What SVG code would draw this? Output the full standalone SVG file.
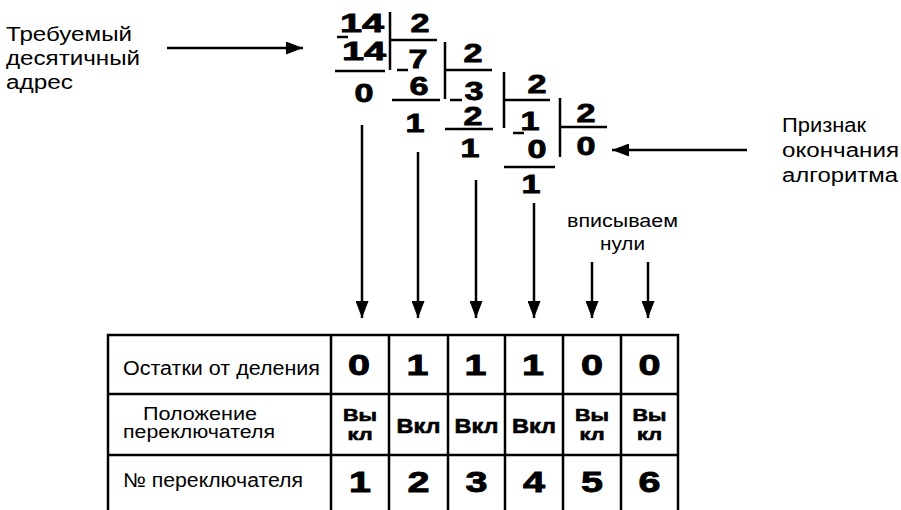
<svg xmlns="http://www.w3.org/2000/svg" width="901" height="510" viewBox="0 0 901 510">
<defs>
<style>
.lbl{font-family:"Liberation Sans",Arial,sans-serif;font-size:20px;fill:#000}
.sm{font-family:"Liberation Sans",Arial,sans-serif;font-size:18px;fill:#000}
.dv{font-family:"Liberation Sans",Arial,sans-serif;font-size:25px;font-weight:bold;fill:#000;stroke:#000;stroke-width:0.8;text-anchor:middle}
.td{font-family:"Liberation Sans",Arial,sans-serif;font-size:30px;font-weight:bold;fill:#000;stroke:#000;stroke-width:0.9;text-anchor:middle}
.sw{font-family:"Liberation Sans",Arial,sans-serif;font-size:21px;font-weight:bold;fill:#000;stroke:#000;stroke-width:0.6;text-anchor:middle}
.sw2{font-family:"Liberation Sans",Arial,sans-serif;font-size:17px;font-weight:bold;fill:#000;stroke:#000;stroke-width:0.6;text-anchor:middle}
.ln{stroke:#000;stroke-width:2.5;fill:none}
.ar{stroke:#000;stroke-width:2.5;fill:none;marker-end:url(#ah)}
</style>
<marker id="ah" markerWidth="17" markerHeight="13" refX="17" refY="6.5" orient="auto" markerUnits="userSpaceOnUse">
<path d="M0,0 L17,6.5 L0,13 Z" fill="#000"/>
</marker>
</defs>
<rect width="901" height="510" fill="#fff"/>

<g id="label-address">
<text class="lbl" x="6" y="41" textLength="126" lengthAdjust="spacingAndGlyphs">Требуемый</text>
<text class="lbl" x="6" y="65" textLength="134" lengthAdjust="spacingAndGlyphs">десятичный</text>
<text class="lbl" x="6" y="89" textLength="67" lengthAdjust="spacingAndGlyphs">адрес</text>
</g>

<g id="label-end">
<text class="lbl" x="782" y="132" textLength="84" lengthAdjust="spacingAndGlyphs">Признак</text>
<text class="lbl" x="782" y="157" textLength="117" lengthAdjust="spacingAndGlyphs">окончания</text>
<text class="lbl" x="782" y="182" textLength="116" lengthAdjust="spacingAndGlyphs">алгоритма</text>
</g>

<g id="label-zeros">
<text class="sm" x="567" y="227" textLength="111" lengthAdjust="spacingAndGlyphs">вписываем</text>
<text class="sm" x="600" y="250" textLength="45" lengthAdjust="spacingAndGlyphs">нули</text>
</g>

<g id="division">
<text class="dv" x="362" y="32" textLength="44" lengthAdjust="spacingAndGlyphs">14</text>
<text class="dv" x="420" y="32" textLength="19" lengthAdjust="spacingAndGlyphs">2</text>
<text class="dv" x="364" y="60" textLength="44" lengthAdjust="spacingAndGlyphs">14</text>
<text class="dv" x="364" y="102" textLength="19" lengthAdjust="spacingAndGlyphs">0</text>
<text class="dv" x="418" y="68" textLength="19" lengthAdjust="spacingAndGlyphs">7</text>
<text class="dv" x="473" y="62" textLength="19" lengthAdjust="spacingAndGlyphs">2</text>
<text class="dv" x="419" y="95" textLength="19" lengthAdjust="spacingAndGlyphs">6</text>
<text class="dv" x="415" y="132" textLength="19" lengthAdjust="spacingAndGlyphs">1</text>
<text class="dv" x="474" y="100" textLength="19" lengthAdjust="spacingAndGlyphs">3</text>
<text class="dv" x="537" y="93" textLength="19" lengthAdjust="spacingAndGlyphs">2</text>
<text class="dv" x="473" y="125" textLength="19" lengthAdjust="spacingAndGlyphs">2</text>
<text class="dv" x="470" y="157" textLength="19" lengthAdjust="spacingAndGlyphs">1</text>
<text class="dv" x="530" y="130" textLength="19" lengthAdjust="spacingAndGlyphs">1</text>
<text class="dv" x="537" y="158" textLength="19" lengthAdjust="spacingAndGlyphs">0</text>
<text class="dv" x="531" y="193" textLength="19" lengthAdjust="spacingAndGlyphs">1</text>
<text class="dv" x="586" y="122" textLength="19" lengthAdjust="spacingAndGlyphs">2</text>
<text class="dv" x="586" y="155" textLength="19" lengthAdjust="spacingAndGlyphs">0</text>
<path class="ln" d="M337,37 H348 M397,70 H408 M450,100 H462 M513,133 H524"/>
<path class="ln" d="M390,12 V70 M445,42 V99 M504,72 V128 M560,98 V157"/>
<path class="ln" d="M390,40 H437 M335,71 H385 M445,70 H492 M392,100 H440 M504,100 H550 M445,129 H493 M560,127 H607 M504,167 H555"/>
</g>

<g id="table">
<path class="ln" d="M108,511 V335 H678 V511 M331,335 V511 M389,335 V511 M448,335 V511 M505,335 V511 M563,335 V511 M621,335 V511 M108,394 H678 M108,455 H678"/>
<text class="lbl" x="123" y="375" textLength="197" lengthAdjust="spacingAndGlyphs">Остатки от деления</text>
<text class="sm" x="143" y="420" textLength="114" lengthAdjust="spacingAndGlyphs">Положение</text>
<text class="sm" x="123" y="438" textLength="152" lengthAdjust="spacingAndGlyphs">переключателя</text>
<text class="lbl" x="123" y="487" textLength="180" lengthAdjust="spacingAndGlyphs">№ переключателя</text>
<text class="td" x="359" y="375" textLength="22" lengthAdjust="spacingAndGlyphs">0</text>
<text class="td" x="417.5" y="375" textLength="22" lengthAdjust="spacingAndGlyphs">1</text>
<text class="td" x="475.5" y="375" textLength="22" lengthAdjust="spacingAndGlyphs">1</text>
<text class="td" x="533" y="375" textLength="22" lengthAdjust="spacingAndGlyphs">1</text>
<text class="td" x="592" y="375" textLength="22" lengthAdjust="spacingAndGlyphs">0</text>
<text class="td" x="649.5" y="375" textLength="22" lengthAdjust="spacingAndGlyphs">0</text>
<text class="sw2" x="360" y="420.5" textLength="34" lengthAdjust="spacingAndGlyphs">Вы</text>
<text class="sw2" x="360" y="440" textLength="25" lengthAdjust="spacingAndGlyphs">кл</text>
<text class="sw" x="418.5" y="433" textLength="44" lengthAdjust="spacingAndGlyphs">Вкл</text>
<text class="sw" x="476.5" y="433" textLength="44" lengthAdjust="spacingAndGlyphs">Вкл</text>
<text class="sw" x="534" y="433" textLength="44" lengthAdjust="spacingAndGlyphs">Вкл</text>
<text class="sw2" x="592" y="420.5" textLength="34" lengthAdjust="spacingAndGlyphs">Вы</text>
<text class="sw2" x="592" y="440" textLength="25" lengthAdjust="spacingAndGlyphs">кл</text>
<text class="sw2" x="649.5" y="420.5" textLength="34" lengthAdjust="spacingAndGlyphs">Вы</text>
<text class="sw2" x="649.5" y="440" textLength="25" lengthAdjust="spacingAndGlyphs">кл</text>
<text class="td" x="360" y="492" textLength="22" lengthAdjust="spacingAndGlyphs">1</text>
<text class="td" x="418.5" y="492" textLength="22" lengthAdjust="spacingAndGlyphs">2</text>
<text class="td" x="476.5" y="492" textLength="22" lengthAdjust="spacingAndGlyphs">3</text>
<text class="td" x="534" y="492" textLength="22" lengthAdjust="spacingAndGlyphs">4</text>
<text class="td" x="592" y="492" textLength="22" lengthAdjust="spacingAndGlyphs">5</text>
<text class="td" x="649.5" y="492" textLength="22" lengthAdjust="spacingAndGlyphs">6</text>
</g>

<g id="connectors">
<path class="ar" d="M167,48 H303"/>
<path class="ar" d="M747,150 H612"/>
<path class="ar" d="M362,125 V318"/>
<path class="ar" d="M418,152 V318"/>
<path class="ar" d="M476,180 V318"/>
<path class="ar" d="M534,203 V318"/>
<path class="ar" d="M592,262 V318"/>
<path class="ar" d="M648,262 V318"/>
</g>
</svg>
